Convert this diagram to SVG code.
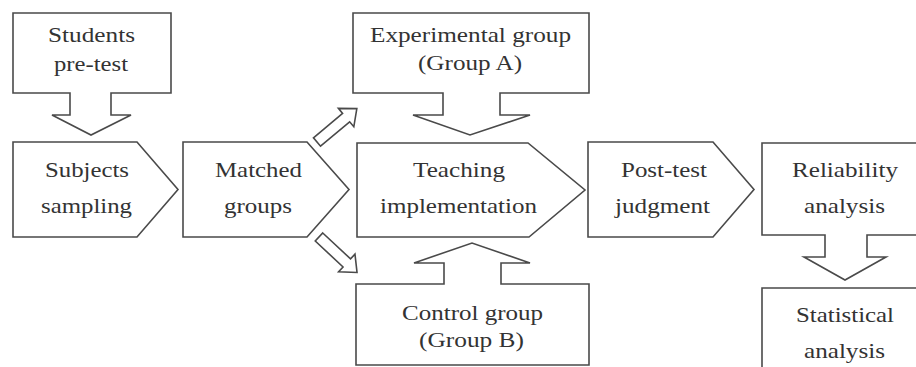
<svg xmlns="http://www.w3.org/2000/svg" width="916" height="367" viewBox="0 0 916 367">
<style>
.s{fill:#fff;stroke:#4a4a4a;stroke-width:1.6;stroke-linejoin:miter}
.t{font-family:"Liberation Serif","Times New Roman",serif;font-size:21px;fill:#333;text-anchor:middle}
</style>
<defs>
<path id="darr" d="M0,-5.5 H38 V-12 L52,0 L38,12 V5.5 H0 Z"/>
</defs>
<rect width="916" height="367" fill="#fff"/>
<g id="students">
<path class="s" d="M13,13 H171 V93 H111 V115 H131 L91,135 L52,115 H70 V93 H13 Z"/>
<text class="t" x="91.5" y="42" textLength="87" lengthAdjust="spacingAndGlyphs">Students</text>
<text class="t" x="91" y="71" textLength="74" lengthAdjust="spacingAndGlyphs">pre-test</text>
</g>
<g id="subjects">
<path class="s" d="M13,142 H137 L178,189.5 L137,237 H13 Z"/>
<text class="t" x="87" y="177" textLength="84" lengthAdjust="spacingAndGlyphs">Subjects</text>
<text class="t" x="86.5" y="213" textLength="91" lengthAdjust="spacingAndGlyphs">sampling</text>
</g>
<g id="matched">
<path class="s" d="M183,142 H307 L349,189.5 L307,237 H183 Z"/>
<text class="t" x="258.5" y="177" textLength="87" lengthAdjust="spacingAndGlyphs">Matched</text>
<text class="t" x="258" y="213" textLength="68" lengthAdjust="spacingAndGlyphs">groups</text>
</g>
<g id="experimental">
<path class="s" d="M353,13 H589 V93 H500 V115 H530 L470,135 L413,115 H443 V93 H353 Z"/>
<text class="t" x="470.5" y="42" textLength="201" lengthAdjust="spacingAndGlyphs">Experimental group</text>
<text class="t" x="470" y="70" textLength="104" lengthAdjust="spacingAndGlyphs">(Group A)</text>
</g>
<g id="teaching">
<path class="s" d="M357,143 H528 L585,190 L529,237 H357 Z"/>
<text class="t" x="459" y="177" textLength="92" lengthAdjust="spacingAndGlyphs">Teaching</text>
<text class="t" x="458.5" y="213" textLength="157" lengthAdjust="spacingAndGlyphs">implementation</text>
</g>
<g id="control">
<path class="s" d="M356,365 V284 H444 V263 H414 L472,243 L530,263 H501 V284 H589 V365 Z"/>
<text class="t" x="472.5" y="320" textLength="141" lengthAdjust="spacingAndGlyphs">Control group</text>
<text class="t" x="471.5" y="347" textLength="105" lengthAdjust="spacingAndGlyphs">(Group B)</text>
</g>
<g id="posttest">
<path class="s" d="M588,142 H713 L754,189.5 L713,237 H588 Z"/>
<text class="t" x="664" y="177" textLength="86" lengthAdjust="spacingAndGlyphs">Post-test</text>
<text class="t" x="662.5" y="213" textLength="95" lengthAdjust="spacingAndGlyphs">judgment</text>
</g>
<g id="reliability">
<path class="s" d="M762,143 H930 V235 H867 V257 H886 L845,280 L804,257 H825 V235 H762 Z"/>
<text class="t" x="845" y="177" textLength="106" lengthAdjust="spacingAndGlyphs">Reliability</text>
<text class="t" x="844.5" y="213" textLength="81" lengthAdjust="spacingAndGlyphs">analysis</text>
</g>
<g id="statistical">
<path class="s" d="M762,372 V288 H930 V372 Z"/>
<text class="t" x="845" y="322" textLength="98" lengthAdjust="spacingAndGlyphs">Statistical</text>
<text class="t" x="844.5" y="358" textLength="81" lengthAdjust="spacingAndGlyphs">analysis</text>
</g>
<g id="connectors">
<use href="#darr" class="s" transform="translate(317,142) rotate(-40)"/>
<use href="#darr" class="s" transform="translate(319,237) rotate(43)"/>
</g>
</svg>
